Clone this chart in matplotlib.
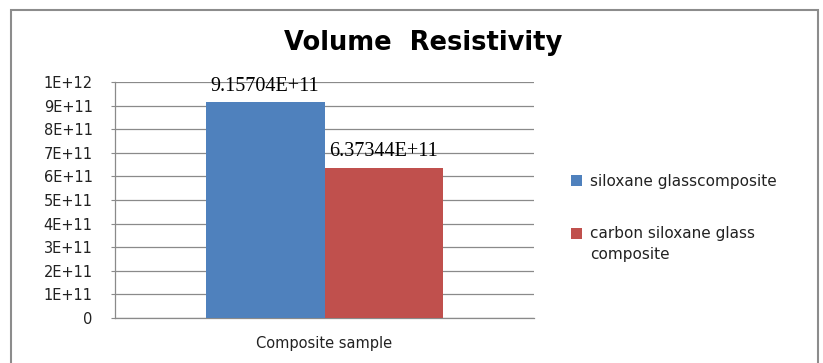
import matplotlib.pyplot as plt
from matplotlib.patches import Rectangle
from matplotlib.legend_handler import HandlerPatch, update_from_first_child
import numpy as np

W, H, DPI = 823, 363, 100

# data
categories = ["Composite sample"]
series_names = ["siloxane glasscomposite", "carbon siloxane glass\ncomposite"]
series_values = [9.15704e11, 6.37344e11]
value_labels = ["9.15704E+11", "6.37344E+11"]
colors = ["#4F81BD", "#C0504D"]
yticks = np.arange(0, 11) * 1e11
ytick_labels = ["0"] + [f"{i}E+11" for i in range(1, 10)] + ["1E+12"]

SANS = "DejaVu Sans"
LEG_SIZE = 11
LEG_LINESPACING = 1.5

fig = plt.figure(figsize=(W / DPI, H / DPI), dpi=DPI)
fig.patch.set_facecolor("white")

# outer chart frame
fig.patches.append(Rectangle((11 / W, -0.05), 807 / W, 1.05 - 10 / H,
                             transform=fig.transFigure, fill=False,
                             edgecolor="#8c8c8c", linewidth=1.5))

ax = fig.add_axes([115 / W, 1 - 318 / H, 419 / W, 236 / H])

width = 0.284
offsets = [-width / 2, width / 2]
containers = []
for name, val, lab, col, off in zip(series_names, series_values, value_labels, colors, offsets):
    containers.append(ax.bar(off, val, width=width, color=col, label=name, zorder=3))
    ax.text(off, val + 0.47e11, lab, ha="center", va="baseline",
            family="Liberation Serif", fontsize=14.5, zorder=4)

ax.set_xlim(-0.5, 0.5)
ax.set_ylim(0, 1e12)
ax.set_yticks(yticks)
ax.set_yticklabels(ytick_labels, family=SANS, fontsize=10.5, color="#222222")
ax.set_xticks([])
ax.yaxis.grid(True, color="#8a8a8a", linewidth=0.9, zorder=0)
ax.tick_params(axis="y", length=3, color="#8a8a8a", pad=13)
for side in ["top", "right"]:
    ax.spines[side].set_visible(False)
for side in ["left", "bottom"]:
    ax.spines[side].set_color("#8a8a8a")
    ax.spines[side].set_linewidth(0.9)

ax.set_xlabel(categories[0], family=SANS, fontsize=10.5, labelpad=13,
              color="#222222")

fig.text(423 / W, 1 - 50 / H, "Volume  Resistivity", ha="center", va="baseline",
         family=SANS, fontweight="bold", fontsize=18.5)


# legend key of a two-line label sits beside its first line
def first_line_patch(legend, orig_handle, xdescent, ydescent, width, height, fontsize):
    dy = LEG_LINESPACING * fontsize / 2
    return Rectangle((-xdescent, -ydescent + dy), width, height)


handler_map = {
    containers[1]: HandlerPatch(patch_func=first_line_patch,
                                update_func=update_from_first_child),
}

leg = ax.legend(loc="upper left", bbox_to_anchor=(571 / W, 1 - 174 / H),
                bbox_transform=fig.transFigure, frameon=False, borderpad=0,
                borderaxespad=0, prop={"family": SANS, "size": LEG_SIZE},
                handlelength=0.75, handleheight=0.75, handletextpad=0.5,
                labelspacing=2.45, handler_map=handler_map)
for t in leg.get_texts():
    t.set_color("#222222")
    t.set_linespacing(LEG_LINESPACING)

fig.savefig("out.png", dpi=DPI, facecolor="white")
